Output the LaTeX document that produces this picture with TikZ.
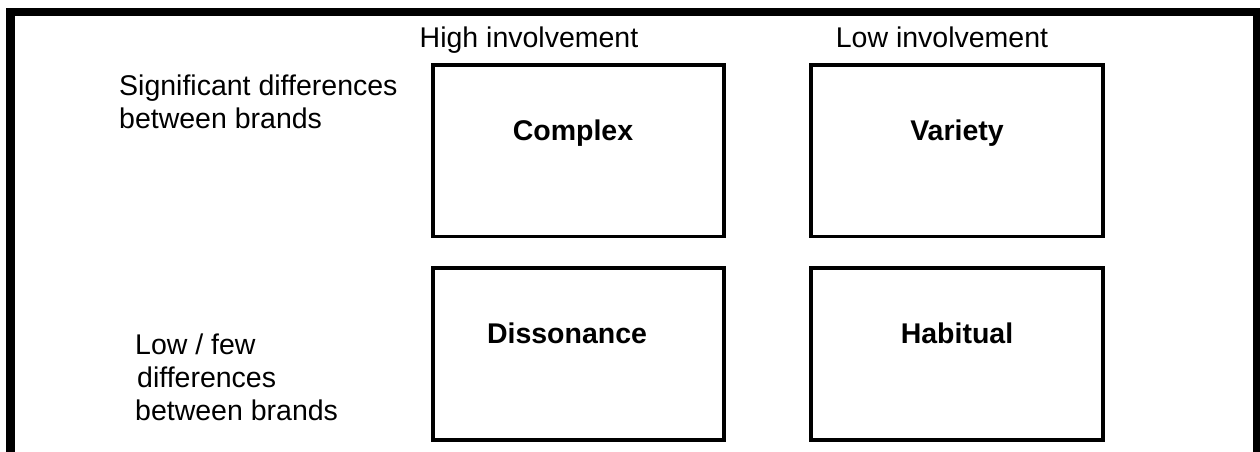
\documentclass[tikz,border=0pt]{standalone}
\usepackage{fontspec}
\setmainfont{Liberation Sans}
\begin{document}
\begin{tikzpicture}[x=1pt,y=-1pt,
  frame/.style={line width=8.5pt},
  cell/.style={draw, line width=3.5pt, inner sep=0pt},
  txt/.style={font=\fontsize{28.5}{33}\selectfont, inner sep=0pt},
  side/.style={txt, anchor=base west, align=left},
  head/.style={txt, anchor=base},
  title/.style={txt, anchor=base, font=\fontsize{28.5}{33}\selectfont\bfseries}]
\useasboundingbox (0,0) rectangle (1260,452);

% outer frame, open at the bottom
\draw[frame] (10.5,470) -- (10.5,12) -- (1257.5,12) -- (1257.5,470);

% column headings
\node[head] (high) at (529,48) {High involvement};
\node[head] (low) at (942,48) {Low involvement};

% row headings (base anchor sits on the last line)
\node[side] (sig) at (119,128) {Significant differences\\between brands};
\node[side] (few) at (135,420) {Low / few\\\hspace*{2pt}differences\\between brands};

% the four buying-behaviour cells
\node[cell, minimum width=291pt, minimum height=171.5pt] (complex) at (578.5,150.75) {};
\node[cell, minimum width=292pt, minimum height=171.5pt] (variety) at (957,150.75) {};
\node[cell, minimum width=291pt, minimum height=172pt] (dissonance) at (578.5,354) {};
\node[cell, minimum width=292pt, minimum height=172pt] (habitual) at (957,354) {};

\node[title] (complexT) at (573,140) {Complex};
\node[title] (varietyT) at (957,140) {Variety};
\node[title] (dissonanceT) at (567,343) {Dissonance};
\node[title] (habitualT) at (957,343) {Habitual};
\end{tikzpicture}
\end{document}
